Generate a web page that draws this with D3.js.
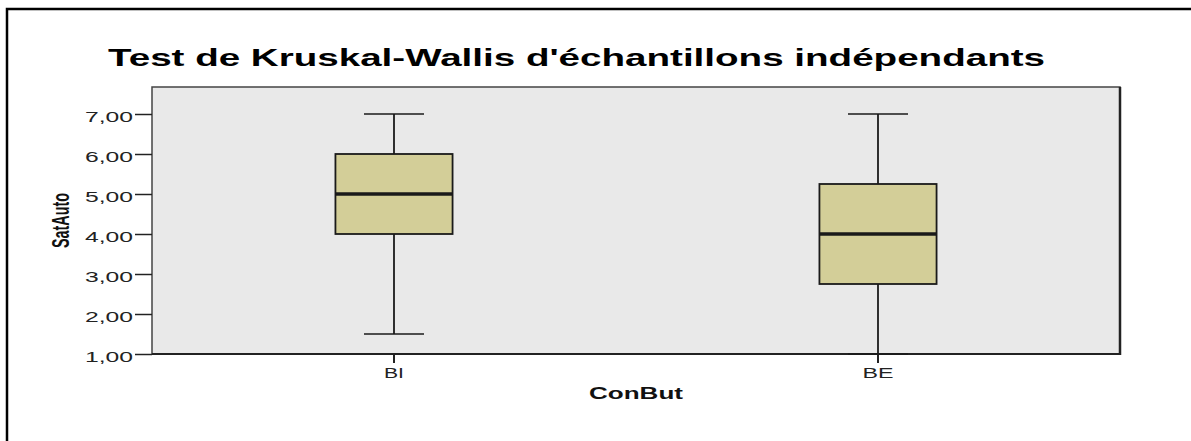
<!DOCTYPE html>
<html>
<head>
<meta charset="utf-8">
<script src="https://cdn.jsdelivr.net/npm/d3@7"></script>
<style>
  html, body { margin: 0; padding: 0; background: #ffffff; overflow: hidden; }
  svg { display: block; overflow: hidden; }
</style>
</head>
<body>
<svg id="chart" width="1191" height="441"></svg>
<script>
// ---- data ----
const categories = ["BI", "BE"];
const whiskerLow = [1.5, 1.0];
const q1Values = [4.0, 2.75];
const medianValues = [5.0, 4.0];
const q3Values = [6.0, 5.25];
const whiskerHigh = [7.0, 7.0];
const yTicks = [1, 2, 3, 4, 5, 6, 7];
const yAxisMax = 7.675;
const titleText = "Test de Kruskal-Wallis d'échantillons indépendants";
const xTitle = "ConBut";
const yTitle = "SatAuto";

// ---- layout ----
const svg = d3.select("#chart");
const plot = { left: 152, right: 1120, top: 87, bottom: 354 };
const font = "'Liberation Sans', Arial, sans-serif";

// outer frame: only left and top edges fall inside the window
svg.append("path")
  .attr("d", "M7,441 L7,9 L1191,9")
  .attr("fill", "none").attr("stroke", "#000").attr("stroke-width", 2.5);

const x = d3.scaleBand().domain(categories).range([plot.left, plot.right]);
const y = d3.scaleLinear().domain([1, yAxisMax]).range([plot.bottom, plot.top]);

// title
svg.append("text")
  .attr("x", 108).attr("y", 66)
  .attr("font-family", font).attr("font-weight", "bold").attr("font-size", 23)
  .attr("textLength", 937).attr("lengthAdjust", "spacingAndGlyphs")
  .attr("fill", "#000")
  .text(titleText);

// plot background
svg.append("rect")
  .attr("x", plot.left).attr("y", plot.top)
  .attr("width", plot.right - plot.left).attr("height", plot.bottom - plot.top)
  .attr("fill", "#e9e9e9").attr("stroke", "#444").attr("stroke-width", 1.5);
svg.append("line")
  .attr("x1", plot.right).attr("x2", plot.right)
  .attr("y1", plot.top).attr("y2", plot.bottom + 1)
  .attr("stroke", "#222").attr("stroke-width", 2.5);
svg.append("line")
  .attr("x1", plot.left).attr("x2", plot.right + 1)
  .attr("y1", plot.bottom).attr("y2", plot.bottom)
  .attr("stroke", "#222").attr("stroke-width", 2);

// y axis
const yAxis = d3.axisLeft(y)
  .tickValues(yTicks)
  .tickSize(17)
  .tickPadding(2)
  .tickFormat(d => d3.format(".2f")(d).replace(".", ","));
const gy = svg.append("g").attr("transform", `translate(${plot.left},0)`).call(yAxis);
gy.select(".domain").remove();
gy.selectAll(".tick line").attr("stroke", "#222").attr("stroke-width", 1.5);
gy.selectAll(".tick text")
  .attr("font-family", font).attr("font-size", 14).attr("fill", "#222")
  .attr("x", -19).attr("dy", "0.55em")
  .attr("textLength", 48).attr("lengthAdjust", "spacingAndGlyphs");

// x axis
const xAxis = d3.axisBottom(x).tickSize(9).tickSizeOuter(0);
const gx = svg.append("g").attr("transform", `translate(0,${plot.bottom})`).call(xAxis);
gx.select(".domain").remove();
gx.selectAll(".tick line").attr("stroke", "#222").attr("stroke-width", 2);
gx.selectAll(".tick text")
  .attr("font-family", font).attr("font-size", 15).attr("fill", "#222")
  .attr("y", 23.5).attr("dy", 0)
  .attr("textLength", d => d === "BI" ? 20 : 31)
  .attr("lengthAdjust", "spacingAndGlyphs");

// axis titles
svg.append("text")
  .attr("x", 636).attr("y", 398.5).attr("text-anchor", "middle")
  .attr("font-family", font).attr("font-weight", "bold").attr("font-size", 16)
  .attr("textLength", 94).attr("lengthAdjust", "spacingAndGlyphs")
  .attr("fill", "#111")
  .text(xTitle);

svg.append("g")
  .attr("transform", "translate(60,220.5) scale(1.6,1) rotate(-90)")
  .append("text")
  .attr("text-anchor", "middle").attr("dy", "0.36em")
  .attr("font-family", "'Liberation Sans Narrow', 'Liberation Sans', Arial, sans-serif")
  .attr("font-weight", "bold").attr("font-size", 15)
  .attr("textLength", 55).attr("lengthAdjust", "spacingAndGlyphs")
  .attr("fill", "#111")
  .text(yTitle);

// boxes
const boxW = x.bandwidth() * 0.242;
const capW = x.bandwidth() * 0.124;
const rows = categories.map((c, i) => ({
  c, lo: whiskerLow[i], q1: q1Values[i], med: medianValues[i], q3: q3Values[i], hi: whiskerHigh[i]
}));
const g = svg.append("g");
rows.forEach(r => {
  const cx = x(r.c) + x.bandwidth() / 2;
  const line = (x1, y1, x2, y2, w) => g.append("line")
    .attr("x1", x1).attr("y1", y1).attr("x2", x2).attr("y2", y2)
    .attr("stroke", "#1a1a1a").attr("stroke-width", w);
  // whiskers
  line(cx, y(r.hi), cx, y(r.q3), 1.8);
  line(cx, y(r.q1), cx, y(r.lo), 1.8);
  line(cx - capW / 2, y(r.hi), cx + capW / 2, y(r.hi), 1.5);
  line(cx - capW / 2, y(r.lo), cx + capW / 2, y(r.lo), 1.5);
  // box
  g.append("rect")
    .attr("x", cx - boxW / 2).attr("y", y(r.q3))
    .attr("width", boxW).attr("height", y(r.q1) - y(r.q3))
    .attr("fill", "#d3ce98").attr("stroke", "#1a1a1a").attr("stroke-width", 1.8);
  // median
  line(cx - boxW / 2, y(r.med), cx + boxW / 2, y(r.med), 3.5);
});
</script>
</body>
</html>
